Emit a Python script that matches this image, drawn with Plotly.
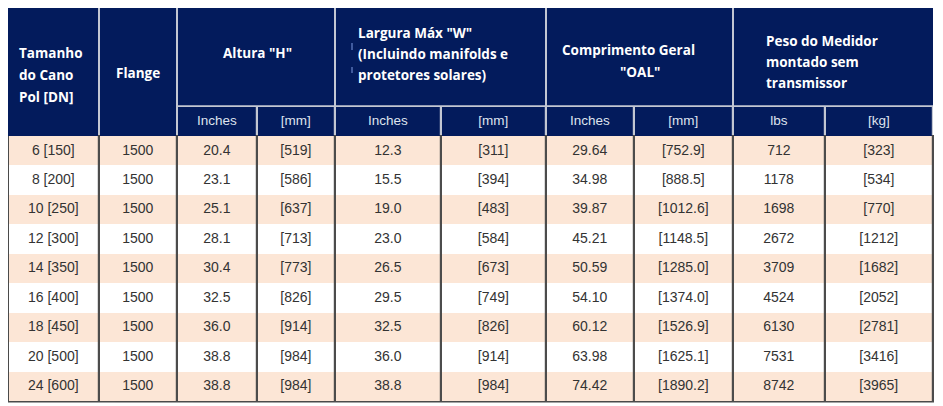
import plotly.graph_objects as go

# Table data
pipe_in = [6, 8, 10, 12, 14, 16, 18, 20, 24]
pipe_dn = [150, 200, 250, 300, 350, 400, 450, 500, 600]
flange = [1500, 1500, 1500, 1500, 1500, 1500, 1500, 1500, 1500]
altura_in = [20.4, 23.1, 25.1, 28.1, 30.4, 32.5, 36.0, 38.8, 38.8]
altura_mm = [519, 586, 637, 713, 773, 826, 914, 984, 984]
largura_in = [12.3, 15.5, 19.0, 23.0, 26.5, 29.5, 32.5, 36.0, 38.8]
largura_mm = [311, 394, 483, 584, 673, 749, 826, 914, 984]
comp_in = [29.64, 34.98, 39.87, 45.21, 50.59, 54.10, 60.12, 63.98, 74.42]
comp_mm = [752.9, 888.5, 1012.6, 1148.5, 1285.0, 1374.0, 1526.9, 1625.1, 1890.2]
peso_lbs = [712, 1178, 1698, 2672, 3709, 4524, 6130, 7531, 8742]
peso_kg = [323, 534, 770, 1212, 1682, 2052, 2781, 3416, 3965]

group_labels = [
    ["Tamanho", "do Cano", "Pol [DN]"],
    ["Flange"],
    ['Altura "H"'],
    ['Largura Máx "W"', "(Incluindo manifolds e", "protetores solares)"],
    ["Comprimento Geral", '"OAL"'],
    ["Peso do Medidor", "montado sem", "transmissor"],
]
sub_labels = ["", "", "Inches", "[mm]", "Inches", "[mm]", "Inches", "[mm]", "lbs", "[kg]"]

columns = [
    [f"{a} [{b}]" for a, b in zip(pipe_in, pipe_dn)],
    [str(v) for v in flange],
    [f"{v:.1f}" for v in altura_in],
    [f"[{v}]" for v in altura_mm],
    [f"{v:.1f}" for v in largura_in],
    [f"[{v}]" for v in largura_mm],
    [f"{v:.2f}" for v in comp_in],
    [f"[{v:.1f}]" for v in comp_mm],
    [str(v) for v in peso_lbs],
    [f"[{v}]" for v in peso_kg],
]

# page has an 8px body margin, so the figure starts at (8, 8) on screen;
# axes are set up so data coordinates equal screen pixels
OFF = 8
SW, SH = 943, 406
FW, FH = SW - OFF, SH - OFF

NAVY = "#031b5c"
PEACH = "#fce6d6"
HEAD_LINE = "#c3c7d2"
BODY_LINE = "#4a4a4a"

col_edges = [8, 99, 177, 257, 335, 441, 546, 634, 733, 825, 933]
group_edges = [8, 99, 177, 335, 546, 733, 933]
y_top, y_mid, y_sub, y_bot = 8, 106, 136, 401
row_h = (y_bot - y_sub) / len(pipe_in)


def px_x(v):
    return (v - OFF) / FW


def px_y(v):
    return 1 - (v - OFF) / FH


fig = go.Figure()

shapes = [
    dict(type="rect", x0=group_edges[0], x1=group_edges[-1], y0=y_top, y1=y_sub + 1,
         fillcolor=HEAD_LINE, line_width=0, layer="below"),
    dict(type="rect", x0=col_edges[0], x1=col_edges[-1] + 1, y0=y_sub - 1, y1=y_bot + 1.5,
         fillcolor=BODY_LINE, line_width=0, layer="below"),
]
for i in range(len(group_edges) - 1):
    x0, x1 = group_edges[i], group_edges[i + 1]
    bottom = y_sub if i < 2 else y_mid - 0.8
    shapes.append(dict(type="rect", x0=x0 + (1 if i else 0), x1=x1 - (1 if i < 5 else 0),
                       y0=y_top, y1=bottom, fillcolor=NAVY, line_width=0, layer="below"))
# small cursor-like marks in front of the "Largura" lines
for y0, y1 in [(43, 50), (67, 73)]:
    shapes.append(dict(type="line", x0=352, x1=352, y0=y0, y1=y1,
                       line=dict(color="#7f9be0", width=1), layer="above"))

# group header text: (anchor x, first line y, line step, xanchor)
label_pos = [
    (17, 53, 22, "left"),
    (138, 73, 22, "center"),
    (257, 53, 22, "center"),
    (356, 33, 21, "left"),
    (628, 50, 22, "center"),
    (764, 41, 21, "left"),
]
annotations = []
for lines, (ax, ay, step, anchor) in zip(group_labels, label_pos):
    for k, line in enumerate(lines):
        x = ax
        if lines[0].startswith("Comprimento") and k == 1:
            x = 640
        annotations.append(dict(
            x=x, y=ay + k * step, xref="x", yref="y", text=f"<b>{line}</b>",
            showarrow=False, xanchor=anchor, yanchor="middle",
            font=dict(family="Open Sans", size=13.5, color="white"),
        ))

for j, vals in enumerate(columns):
    x0, x1 = col_edges[j], col_edges[j + 1]
    fills = [PEACH if r % 2 == 0 else "white" for r in range(len(vals))]
    fig.add_trace(go.Table(
        domain=dict(x=[px_x(x0 + 0.8), px_x(x1 - 0.8)], y=[0, px_y(y_mid + 1)]),
        header=dict(
            values=[sub_labels[j]], height=y_sub - y_mid - 1,
            fill_color=NAVY, line=dict(color=NAVY, width=0),
            font=dict(family="Liberation Sans", size=13.5, color="#dfe3ee"),
            align="center",
        ),
        cells=dict(
            values=[vals], height=row_h,
            fill_color=[fills], line=dict(color=[fills], width=0),
            font=dict(family="Liberation Sans", size=14, color="#333333"),
            align="center",
        ),
    ))

fig.update_layout(
    width=FW, height=FH,
    margin=dict(l=0, r=0, t=0, b=0),
    paper_bgcolor="white", plot_bgcolor="white",
    xaxis=dict(range=[OFF, SW], visible=False, fixedrange=True),
    yaxis=dict(range=[SH, OFF], visible=False, fixedrange=True),
    shapes=shapes, annotations=annotations,
    showlegend=False,
)

fig.write_html("out.html")
